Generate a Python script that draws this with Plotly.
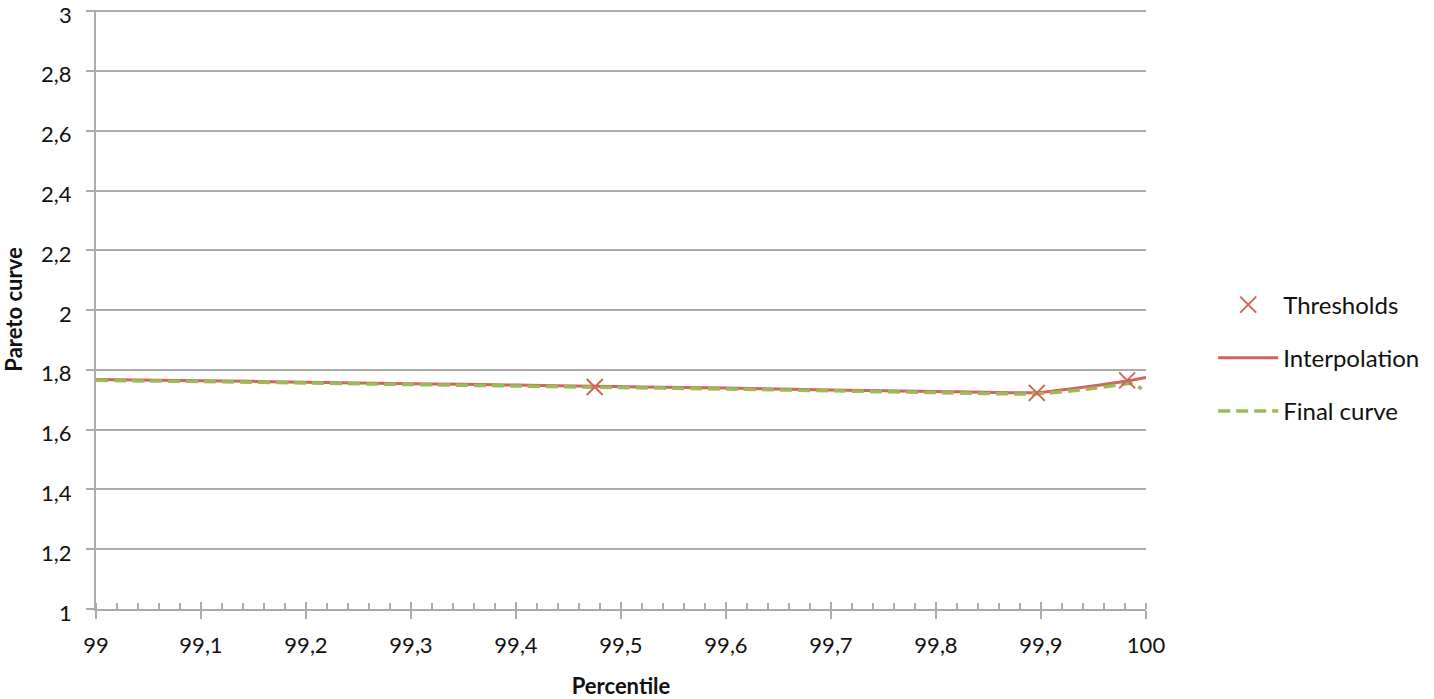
import plotly.graph_objects as go

# Data
thr_x = [99.475, 99.896, 99.982]
thr_y = [1.743, 1.723, 1.765]

interp_x = [99.0, 99.1, 99.2, 99.3, 99.4, 99.475, 99.6, 99.7, 99.8, 99.896, 99.94, 99.982, 100.0]
interp_y = [1.768, 1.764, 1.759, 1.754, 1.749, 1.745, 1.739, 1.733, 1.728, 1.724, 1.742, 1.763, 1.775]

final_x = [99.0, 99.1, 99.2, 99.3, 99.4, 99.475, 99.6, 99.7, 99.8, 99.896, 99.94, 99.975, 99.985, 99.996]
final_y = [1.765, 1.761, 1.756, 1.751, 1.746, 1.742, 1.736, 1.730, 1.724, 1.720, 1.734, 1.750, 1.754, 1.737]

x_ticks = [99.0, 99.1, 99.2, 99.3, 99.4, 99.5, 99.6, 99.7, 99.8, 99.9, 100.0]
x_labels = ["99", "99,1", "99,2", "99,3", "99,4", "99,5", "99,6", "99,7", "99,8", "99,9", "100"]
y_ticks = [1.0, 1.2, 1.4, 1.6, 1.8, 2.0, 2.2, 2.4, 2.6, 2.8, 3.0]
y_labels = ["1", "1,2", "1,4", "1,6", "1,8", "2", "2,2", "2,4", "2,6", "2,8", "3"]

RED = "#D0655B"
GREEN = "#9BBB59"
GRID = "#ABABAB"
FONT = "Lato"
TXT = "#111111"

fig = go.Figure()
fig.add_trace(go.Scatter(
    x=interp_x, y=interp_y, mode="lines", name="Interpolation",
    line=dict(color=RED, width=3, shape="spline", smoothing=0.6),
    legendgroup="b", legendrank=2))
fig.add_trace(go.Scatter(
    x=final_x, y=final_y, mode="lines", name="Final curve",
    line=dict(color=GREEN, width=3.5, dash="12px,6px", shape="spline", smoothing=0.6),
    legendgroup="c", legendrank=3))
fig.add_trace(go.Scatter(
    x=thr_x, y=thr_y, mode="markers", name="Thresholds",
    marker=dict(symbol="x-thin-open", size=16, line=dict(color=RED, width=2), color=RED),
    legendgroup="a", legendrank=1))
# invisible trace on the overlay axis so it renders its inside major ticks
fig.add_trace(go.Scatter(x=[x_ticks[0]], y=[y_ticks[0]], xaxis="x2", mode="markers",
                         marker=dict(opacity=0), showlegend=False, hoverinfo="skip"))

# y tick labels as text placed through the y scale, nudged a few px lower like the reference
for v, lab in zip(y_ticks, y_labels):
    fig.add_annotation(x=0, xref="paper", xanchor="right", xshift=-22,
                       y=v, yref="y", yanchor="middle", yshift=-3,
                       text=lab, showarrow=False, font=dict(size=22, color=TXT))

fig.update_layout(
    width=1434, height=699,
    margin=dict(l=96, r=288, t=10, b=90),
    paper_bgcolor="white", plot_bgcolor="white",
    font=dict(family=FONT, size=22, color=TXT),
    separators=", ",
    legend=dict(x=1.064, y=0.419, xanchor="left", yanchor="middle",
                font=dict(size=24, color=TXT),
                tracegroupgap=19, itemwidth=60),
    xaxis=dict(
        range=[99, 100], tickvals=x_ticks, ticktext=x_labels,
        showgrid=False, zeroline=False, automargin=False,
        showline=True, linecolor=GRID, linewidth=2,
        ticks="outside", ticklen=8, tickwidth=2, tickcolor=GRID,
        minor=dict(ticks="inside", ticklen=6, tickwidth=1.5, tickcolor=GRID, dtick=0.02, tick0=99, showgrid=False),
        title=dict(text="<b>Percentile</b>", font=dict(size=22, color=TXT), standoff=21),
        tickfont=dict(size=22, color=TXT), ticklabelstandoff=8,
    ),
    xaxis2=dict(
        range=[99, 100], overlaying="x", side="bottom", matches="x",
        tickvals=x_ticks, showticklabels=False, showgrid=False, zeroline=False,
        ticks="inside", ticklen=7, tickwidth=2, tickcolor=GRID, showline=False,
    ),
    yaxis=dict(
        range=[1, 3.004], tickvals=y_ticks, showticklabels=False,
        showgrid=True, gridcolor=GRID, gridwidth=2, zeroline=False, automargin=False,
        showline=True, linecolor=GRID, linewidth=2,
        ticks="outside", ticklen=8, tickwidth=2, tickcolor=GRID,
        title=dict(text="<b>Pareto curve</b>", font=dict(size=22, color=TXT), standoff=58),
    ),
)

fig.write_html("out.html", post_script="document.body.style.margin='0';",
               config={"displayModeBar": False})
